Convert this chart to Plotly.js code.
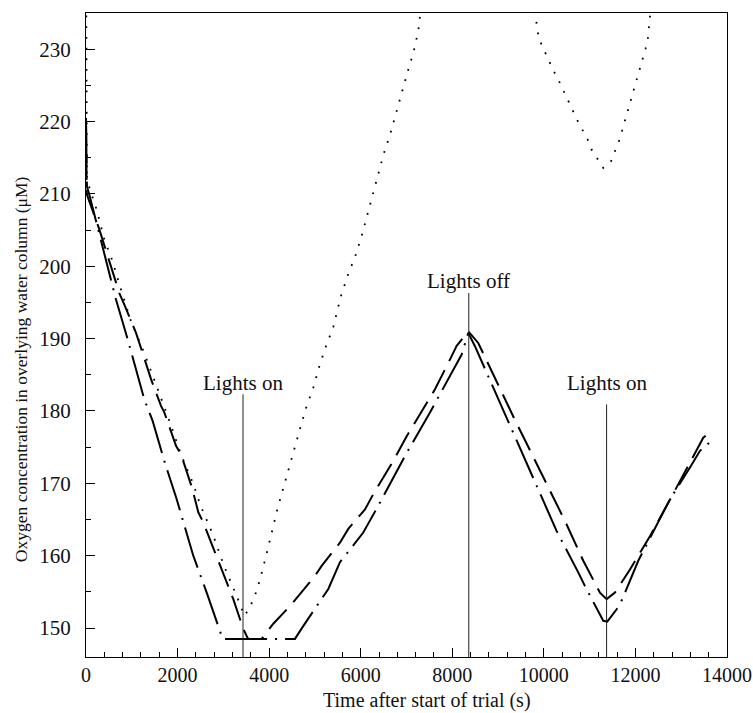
<!DOCTYPE html>
<html>
<head>
<meta charset="utf-8">
<script src="https://cdn.plot.ly/plotly-3.0.1.min.js"></script>
<style>html,body{margin:0;padding:0;background:#fff;}#chart{width:753px;height:713px;}</style>
</head>
<body>
<div id="chart"></div>
<script>
// Series 1: long-dashed trace
const dashTime = [0, 15, 291, 474, 728, 837, 1092, 1165, 1347, 1420, 1638, 1710, 1966, 2075, 2315, 2380, 2453, 2562, 2854, 2963, 3217, 3291, 3400, 3435, 3509, 3544, 3837, 4091, 4492, 4673, 5001, 5147, 5547, 5728, 6093, 6274, 6567, 6712, 7004, 7185, 7476, 7622, 7949, 8096, 8349, 8567, 9350, 10133, 10461, 10861, 11225, 11371, 11553, 11881, 12317, 12717, 13191, 13481, 13612];
const dashO2 = [220.5, 210, 205.1, 201.4, 196.3, 194.7, 190.8, 189.4, 185.7, 184.4, 180.7, 179.8, 175.2, 174.0, 169.4, 167.8, 166.0, 164.6, 160.0, 158.1, 154.0, 152.6, 150.6, 149.9, 148.9, 148.5, 148.5, 150.6, 153.3, 154.7, 157.2, 158.6, 161.8, 163.7, 166.4, 168.5, 171.5, 173.1, 176.5, 178.4, 181.6, 183.0, 187.1, 189.0, 191.0, 189.4, 179.0, 168.9, 164.8, 159.3, 154.9, 154.0, 154.9, 158.1, 162.7, 167.3, 172.9, 176.3, 177.0];

// Series 2: dash-dot trace
const dashDotTime = [0, 20, 72, 290, 474, 655, 911, 1273, 1457, 1710, 1981, 2343, 2636, 2817, 2985, 3500, 4000, 4564, 4711, 5292, 5547, 6056, 6383, 6785, 7004, 7513, 7768, 8205, 8349, 8495, 9400, 10280, 10751, 10898, 11297, 11385, 11590, 11699, 12062, 12463, 12754, 13191, 13410, 13612];
const dashDotO2 = [220, 211, 209.9, 204.4, 200.0, 195.4, 189.9, 181.6, 178.6, 173.1, 167.8, 160.0, 154.9, 151.7, 148.5, 148.5, 148.5, 148.5, 149.96, 155.4, 159.1, 163.2, 166.9, 171.5, 174.2, 179.8, 182.7, 187.8, 190.8, 188.95, 176.0, 163.4, 157.7, 155.8, 151.0, 150.9, 152.6, 153.8, 159.3, 164.1, 167.8, 172.2, 174.5, 175.6];

// Series 3: dotted trace (runs off the top of the plot)
const dotTime = [0, 20, 87, 234, 400, 568, 764, 983, 1273, 1529, 1784, 2075, 2343, 2490, 2767, 3014, 3204, 3378, 3450, 3566, 3641, 3728, 3850, 3959, 4077, 4178, 4302, 4411, 4536, 4673, 4805, 4964, 5088, 5226, 5401, 5569, 5715, 5881, 6021, 6137, 6261, 6384, 6501, 6646, 6770, 6895, 7026, 7157, 7257, 7294, 7600, 8360, 9200, 9821, 9849, 9899, 9995, 10096, 10205, 10323, 10424, 10533, 10629, 10729, 10839, 10957, 11044, 11153, 11297, 11465, 11568, 11640, 11712, 11771, 11837, 11902, 11968, 12033, 12099, 12158, 12223, 12274, 12302, 12317, 12600, 13600];
const dotO2 = [245, 212, 210.6, 207.8, 203.7, 200.9, 196.8, 192.4, 188.0, 183.7, 179.3, 174.0, 169.9, 167.1, 163.0, 158.6, 155.8, 153.1, 151.7, 152.6, 153.8, 155.15, 157.9, 160.9, 163.7, 166.4, 169.2, 171.9, 174.7, 177.5, 180.4, 183.2, 186.0, 188.7, 191.6, 195.9, 198.7, 201.4, 204.2, 207.0, 209.9, 212.7, 215.5, 218.3, 221.2, 224.1, 226.9, 229.7, 232.5, 234.6, 241.5, 258.5, 247.5, 235.0, 232.9, 231.4, 230.0, 228.6, 227.1, 225.7, 224.3, 223.0, 221.6, 220.2, 218.9, 217.5, 216.1, 215.0, 213.6, 214.5, 216.0, 217.3, 218.8, 220.2, 221.6, 223.0, 224.5, 225.9, 227.3, 228.7, 230.1, 231.6, 233.0, 234.5, 240.3, 260];

// Light events
const eventTimes = [3429, 8360, 11370];
const eventLabels = ['Lights on', 'Lights off', 'Lights on'];
const eventTops = [182.3, 196.3, 180.9];
const eventLabelY = [183.8, 197.9, 183.8];

const xTicks = [0, 2000, 4000, 6000, 8000, 10000, 12000, 14000];
const yTicks = [150, 160, 170, 180, 190, 200, 210, 220, 230];

const FONT = 'Liberation Serif, Times New Roman, serif';

const traces = [
  {x: dashTime, y: dashO2, mode: 'lines', line: {color: '#000', width: 2, dash: '26px,10px'}, hoverinfo: 'skip'},
  {x: dashDotTime, y: dashDotO2, mode: 'lines', line: {color: '#000', width: 2, dash: '42px,8px,2px,8px'}, hoverinfo: 'skip'},
  {x: dotTime, y: dotO2, mode: 'lines', line: {color: '#000', width: 1.8, dash: '1.8px,8.9px'}, hoverinfo: 'skip'}
];

const shapes = eventTimes.map((t, i) => ({
  type: 'line', xref: 'x', yref: 'y', x0: t, x1: t, y0: 146, y1: eventTops[i],
  line: {color: '#222', width: 1}
}));

const annotations = eventTimes.map((t, i) => ({
  x: t, y: eventLabelY[i], xref: 'x', yref: 'y', text: eventLabels[i], showarrow: false,
  xanchor: 'center', yanchor: 'middle', font: {family: FONT, size: 21, color: '#111'}
}));

annotations.push({
  xref: 'paper', yref: 'paper', x: 0.532, y: -0.0668, xanchor: 'center', yanchor: 'middle',
  text: 'Time after start of trial (s)', showarrow: false, font: {family: FONT, size: 20, color: '#111'}
});
annotations.push({
  xref: 'paper', yref: 'paper', x: -0.1014, y: 0.447, xanchor: 'center', yanchor: 'middle', textangle: -90,
  text: 'Oxygen concentration in overlying water column (μM)', showarrow: false, font: {family: FONT, size: 17.5, color: '#111'}
});

const layout = {
  width: 753, height: 713,
  margin: {l: 86, r: 26, t: 13, b: 56},
  paper_bgcolor: '#fff', plot_bgcolor: '#fff',
  showlegend: false,
  xaxis: {
    range: [0, 14000], tickvals: xTicks, ticktext: xTicks.map(String),
    ticks: 'inside', ticklen: 9, tickwidth: 1, tickcolor: '#000',
    minor: {dtick: 400, tick0: 0, ticks: 'inside', ticklen: 5, tickwidth: 1, tickcolor: '#000'},
    showline: true, linecolor: '#000', linewidth: 1, mirror: true,
    showgrid: false, zeroline: false, ticklabelstandoff: 0, ticklabeloverflow: 'allow',
    tickfont: {family: FONT, size: 20, color: '#111'}
  },
  yaxis: {
    range: [146, 235], tickvals: yTicks, ticktext: yTicks.map(String),
    ticks: 'inside', ticklen: 9, tickwidth: 1, tickcolor: '#000',
    minor: {dtick: 5, tick0: 0, ticks: 'inside', ticklen: 5, tickwidth: 1, tickcolor: '#000'},
    showline: true, linecolor: '#000', linewidth: 1, mirror: true,
    showgrid: false, zeroline: false, ticklabelstandoff: 10, ticklabeloverflow: 'allow',
    tickfont: {family: FONT, size: 21, color: '#111'}
  },
  shapes: shapes,
  annotations: annotations
};

Plotly.newPlot('chart', traces, layout, {displayModeBar: false, staticPlot: true});
</script>
</body>
</html>
